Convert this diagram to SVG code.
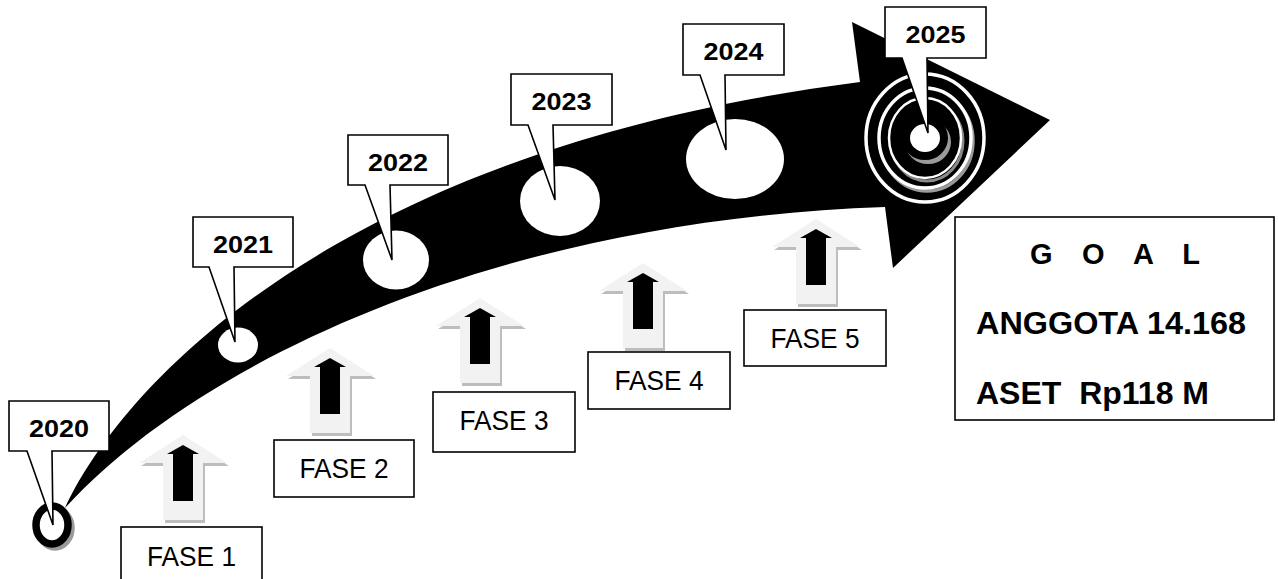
<svg xmlns="http://www.w3.org/2000/svg" width="1278" height="579" viewBox="0 0 1278 579">
<style>
.call{fill:#fff;stroke:#000;stroke-width:1.6;stroke-linejoin:miter}
.yr{font-family:"Liberation Sans",Arial,sans-serif;font-weight:bold;font-size:24px;text-anchor:middle;fill:#000}
.box{fill:#fff;stroke:#000;stroke-width:1.6}
.fase{font-family:"Liberation Sans",Arial,sans-serif;font-size:27px;text-anchor:middle;fill:#000}
.goal{font-family:"Liberation Sans",Arial,sans-serif;font-weight:bold;fill:#000}
.hole{fill:#fff}
.hsh{fill:#9a9a9a}
</style>
<defs>
<path id="upOuter" d="M0,0 L44,28 L20,28 L20,85 L-20,85 L-20,28 L-44,28 Z"/>
<path id="upInner" d="M0,10 L16,19 L10,19 L10,66 L-10,66 L-10,19 L-16,19 Z"/>
<g id="up">
<use href="#upOuter" transform="translate(2,3)" fill="#bdbdbd"/>
<use href="#upOuter" fill="#f2f2f2"/>
<use href="#upInner" fill="#000"/>
</g>
</defs>
<rect width="1278" height="579" fill="#fff"/>

<g id="curved-arrow">
<ellipse class="hsh" cx="241" cy="349" rx="20" ry="17.5"/>
<path d="M65,508 C120,390 330,150 860,82 L852,22 L1050,120 L893,268 L885,207 C500,220 200,360 65,508 Z" fill="#000"/>
<ellipse class="hole" cx="238" cy="345" rx="20" ry="17.5"/>
<ellipse class="hole" cx="396" cy="260" rx="33" ry="29.5"/>
<ellipse class="hole" cx="560" cy="201" rx="40" ry="35"/>
<ellipse class="hole" cx="735" cy="159" rx="49" ry="40"/>
</g>

<g id="ring-2020">
<ellipse cx="55" cy="528" rx="16" ry="19" fill="none" stroke="#9a9a9a" stroke-width="7.5"/>
<ellipse cx="52" cy="525" rx="16" ry="19" fill="#fff" stroke="#000" stroke-width="7.5"/>
</g>

<g id="target-2025">
<ellipse cx="925" cy="138" rx="59" ry="64" fill="#000" stroke="#fff" stroke-width="3.5"/>
<ellipse cx="927" cy="141" rx="46" ry="50" fill="none" stroke="#9a9a9a" stroke-width="3.5"/>
<ellipse cx="925" cy="138" rx="46" ry="50" fill="#000" stroke="#fff" stroke-width="3.5"/>
<ellipse cx="927" cy="141" rx="36" ry="40" fill="none" stroke="#8a8a8a" stroke-width="3"/>
<ellipse cx="925" cy="138" rx="36" ry="40" fill="#000" stroke="#fff" stroke-width="2.5"/>
<ellipse cx="928" cy="142" rx="19" ry="18" fill="none" stroke="#9a9a9a" stroke-width="8"/>
<ellipse cx="925" cy="138" rx="19" ry="18" fill="#fff" stroke="#000" stroke-width="8"/>
</g>

<g id="callout-2020">
<path class="call" d="M9,401 H109 V451 H52 L53,525 L27,451 H9 Z"/>
<text class="yr" x="59" y="437" textLength="60" lengthAdjust="spacingAndGlyphs">2020</text>
</g>
<g id="callout-2021">
<path class="call" d="M193,217 H293 V267 H234 L235,342 L209,267 H193 Z"/>
<text class="yr" x="243" y="253" textLength="60" lengthAdjust="spacingAndGlyphs">2021</text>
</g>
<g id="callout-2022">
<path class="call" d="M348,135 H448 V185 H390 L392,260 L365,185 H348 Z"/>
<text class="yr" x="398" y="171" textLength="60" lengthAdjust="spacingAndGlyphs">2022</text>
</g>
<g id="callout-2023">
<path class="call" d="M511,74 H612 V125 H553 L555,200 L528,125 H511 Z"/>
<text class="yr" x="561.5" y="110" textLength="60" lengthAdjust="spacingAndGlyphs">2023</text>
</g>
<g id="callout-2024">
<path class="call" d="M683,24 H784 V75 H725 L726,150 L700,75 H683 Z"/>
<text class="yr" x="733.5" y="60" textLength="60" lengthAdjust="spacingAndGlyphs">2024</text>
</g>
<g id="callout-2025">
<path class="call" d="M885,7 H986 V58 H927 L928,133 L902,58 H885 Z"/>
<text class="yr" x="935.5" y="43" textLength="60" lengthAdjust="spacingAndGlyphs">2025</text>
</g>

<g id="fase-1">
<use href="#up" transform="translate(183,435)"/>
<rect class="box" x="121" y="527" width="141" height="62"/>
<text class="fase" x="191.5" y="566" textLength="89" lengthAdjust="spacingAndGlyphs">FASE 1</text>
</g>
<g id="fase-2">
<use href="#up" transform="translate(330,348)"/>
<rect class="box" x="274" y="440" width="140" height="57"/>
<text class="fase" x="344" y="478" textLength="89" lengthAdjust="spacingAndGlyphs">FASE 2</text>
</g>
<g id="fase-3">
<use href="#up" transform="translate(480,298)"/>
<rect class="box" x="433" y="392" width="142" height="60"/>
<text class="fase" x="504" y="430" textLength="89" lengthAdjust="spacingAndGlyphs">FASE 3</text>
</g>
<g id="fase-4">
<use href="#up" transform="translate(643,263)"/>
<rect class="box" x="588" y="352" width="142" height="57"/>
<text class="fase" x="659" y="390" textLength="89" lengthAdjust="spacingAndGlyphs">FASE 4</text>
</g>
<g id="fase-5">
<use href="#up" transform="translate(816,219)"/>
<rect class="box" x="744" y="310" width="142" height="56"/>
<text class="fase" x="815" y="348" textLength="89" lengthAdjust="spacingAndGlyphs">FASE 5</text>
</g>

<g id="goal">
<rect class="box" x="955" y="217" width="319" height="203"/>
<text class="goal" x="1030" y="264" font-size="29" textLength="170" lengthAdjust="spacing" word-spacing="17">G O A L</text>
<text class="goal" x="976" y="334" font-size="31" textLength="270" lengthAdjust="spacingAndGlyphs">ANGGOTA 14.168</text>
<text class="goal" x="976" y="404" font-size="31" xml:space="preserve" textLength="233" lengthAdjust="spacingAndGlyphs">ASET  Rp118 M</text>
</g>
</svg>
